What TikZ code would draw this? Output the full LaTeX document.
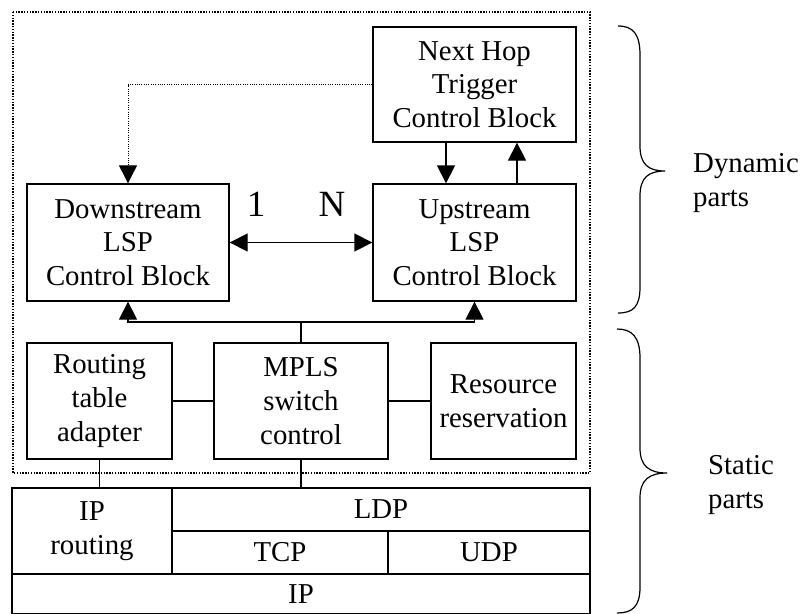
\documentclass[tikz,border=0pt]{standalone}
\usepackage{fontspec}
\setmainfont{Liberation Serif}
\usetikzlibrary{arrows.meta}
\begin{document}
\begin{tikzpicture}[x=1pt,y=-1pt,
  font=\fontsize{28.8}{33.7}\selectfont,
  blk/.style={draw, line width=1.3pt, rectangle, inner sep=0pt, align=center},
  conn/.style={line width=1.3pt},
  arr/.style={conn, -{Triangle[length=18pt,width=18pt]}},
  dbl/.style={conn, {Triangle[length=18pt,width=18pt]}-{Triangle[length=18pt,width=18pt]}},
  dotconn/.style={line width=0.9pt, dash pattern=on 0.9pt off 1.4pt},
  frame/.style={line width=1.5pt, dash pattern=on 1.4pt off 1.4pt},
  brc/.style={line width=1.2pt},
  lbl/.style={inner sep=0pt, align=left, anchor=west}]
\useasboundingbox (0,0) rectangle (802,613);

% dynamic and static control area
\draw[frame] (13,12) rectangle (590,473);

% control blocks
\node[blk, minimum width=203pt, minimum height=115pt] (nh) at (474.5,84.5) {Next Hop\\Trigger\\Control Block};
\node[blk, minimum width=202pt, minimum height=117pt] (ds) at (128,242.5) {Downstream\\LSP\\Control Block};
\node[blk, minimum width=203pt, minimum height=117pt] (us) at (474.5,242.5) {Upstream\\LSP\\Control Block};

% static modules
\node[blk, minimum width=145pt, minimum height=116pt] (rt) at (99.5,401) {Routing\\table\\adapter};
\node[blk, minimum width=174pt, minimum height=116pt] (mp) at (301,401) {MPLS\\switch\\control};
\node[blk, minimum width=145pt, minimum height=116pt] (rr) at (503.5,401) {Resource\\reservation};

% protocol stack
\node[blk, minimum width=160pt, minimum height=86pt] (iprt) at (92,531) {IP\\routing};
\node[blk, minimum width=418pt, minimum height=43pt] (ldp) at (381,509.5) {LDP};
\node[blk, minimum width=216pt, minimum height=43pt] (tcp) at (280,552.5) {TCP};
\node[blk, minimum width=202pt, minimum height=43pt] (udp) at (489,552.5) {UDP};
\node[blk, minimum width=578pt, minimum height=40pt] (ip) at (301,594) {IP};

% multiplicity labels
\node[inner sep=0pt, font=\fontsize{37}{40}\selectfont] (one) at (256,204.5) {1};
\node[inner sep=0pt, font=\fontsize{37}{40}\selectfont] (nn) at (332,204.5) {N};

% connectors between control blocks
\draw[dotconn, -{Triangle[length=18pt,width=18pt]}] (nh.west) -| (ds.north);
\draw[arr] ([xshift=-28.5pt]nh.south) -- ([xshift=-28.5pt]us.north);
\draw[arr] ([xshift=42.5pt]us.north) -- ([xshift=42.5pt]nh.south);
\draw[dbl] (ds.east) -- (us.west);

% bus from switch control to LSP blocks
\coordinate (bus) at (301,322);
\draw[conn] (mp.north) -- (bus);
\draw[arr] (bus) -| (ds.south);
\draw[arr] (bus) -| (us.south);

% links between static modules
\draw[conn] (rt.east) -- (mp.west);
\draw[conn] (mp.east) -- (rr.west);
\draw[conn] (rt.south) -- (rt.south |- iprt.north);
\draw[conn] (mp.south) -- (mp.south |- ldp.north);

% braces
\draw[brc] (618,26) .. controls (633,26) and (640,34) .. (640,55) -- (640,146)
  .. controls (640,164) and (648,171) .. (665,171)
  .. controls (648,171) and (640,178) .. (640,196) -- (640,287)
  .. controls (640,307) and (633,313) .. (618,313);
\draw[brc] (617,329) .. controls (632,329) and (640,337) .. (640,358) -- (640,448)
  .. controls (640,466) and (649,473) .. (667,473)
  .. controls (649,473) and (640,480) .. (640,498) -- (640,587)
  .. controls (640,607) and (632,613) .. (617,613);

\node[lbl] (dyn) at (693,183) {Dynamic\\parts};
\node[lbl] (sta) at (708,485) {Static\\parts};
\end{tikzpicture}
\end{document}
